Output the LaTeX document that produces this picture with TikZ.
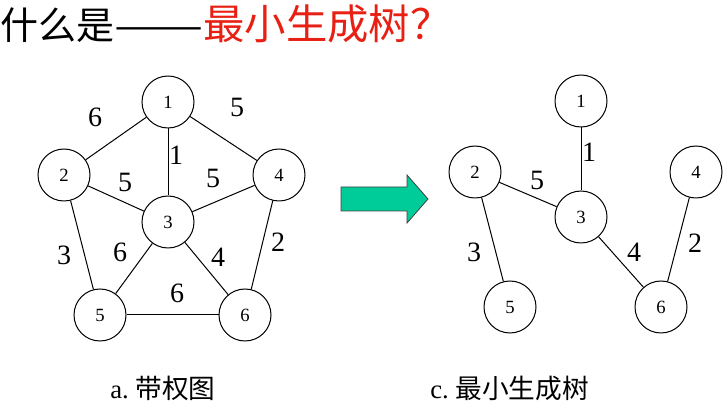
\documentclass[tikz,border=0pt]{standalone}
\usepackage{fontspec}
\setmainfont{Liberation Serif}
\newfontfamily\cjk{Noto Sans CJK SC}
\definecolor{titlered}{RGB}{232,32,20}
\definecolor{arrowteal}{RGB}{0,204,153}

\begin{document}
\begin{tikzpicture}[x=0.75pt, y=-0.75pt,
  vertex/.style={draw, circle, line width=0.75pt, minimum size=39pt, inner sep=0pt, font=\fontsize{14}{16}\selectfont},
  weight/.style={inner sep=0pt, font=\fontsize{21}{22}\selectfont},
  edge/.style={line width=0.75pt},
  caption/.style={anchor=west, inner sep=0pt, font=\fontsize{20}{22}\selectfont}]
\useasboundingbox (0,0) rectangle (725,402);
\node[anchor=west, inner sep=0pt, font=\cjk\fontsize{28.5}{30}\selectfont] (title) at (0,24) {什么是\scalebox{1.4}[1]{——}\textcolor{titlered}{\fontsize{31}{32}\selectfont 最小生成树？}};
\node[vertex] (l1) at (168,102) {1};
\node[vertex] (l2) at (64,175) {2};
\node[vertex] (l3) at (168,222) {3};
\node[vertex] (l4) at (279,175) {4};
\node[vertex] (l5) at (100,315) {5};
\node[vertex] (l6) at (245,315) {6};
\draw[edge] (l1)--(l2);
\draw[edge] (l1)--(l4);
\draw[edge] (l1)--(l3);
\draw[edge] (l2)--(l3);
\draw[edge] (l3)--(l4);
\draw[edge] (l2)--(l5);
\draw[edge] (l3)--(l5);
\draw[edge] (l3)--(l6);
\draw[edge] (l4)--(l6);
\draw[edge] (l5)--(l6);
\node[weight] (a12) at (95,117) {6};
\node[weight] (a14) at (237,107) {5};
\node[weight] (a13) at (176,155) {1};
\node[weight] (a23) at (125,182) {5};
\node[weight] (a34) at (213,178) {5};
\node[weight] (a25) at (64,255) {3};
\node[weight] (a35) at (120,252) {6};
\node[weight] (a36) at (218,257) {4};
\node[weight] (a46) at (278,242) {2};
\node[weight] (a56) at (177,293) {6};
\node[caption] (capa) at (110,388) {a.~{\cjk 带权图}};
\filldraw[fill=arrowteal, draw=black!75, line width=0.6pt] (341,187)--(407,187)--(407,175)--(428,199)--(407,223)--(407,211)--(341,211)--cycle;
\node[vertex] (r1) at (581,101) {1};
\node[vertex] (r2) at (475,172) {2};
\node[vertex] (r3) at (581,217) {3};
\node[vertex] (r4) at (696,172) {4};
\node[vertex] (r5) at (510,307) {5};
\node[vertex] (r6) at (661,307) {6};
\draw[edge] (r1)--(r3);
\draw[edge] (r2)--(r3);
\draw[edge] (r2)--(r5);
\draw[edge] (r3)--(r6);
\draw[edge] (r4)--(r6);
\node[weight] (b13) at (589,152) {1};
\node[weight] (b23) at (537,180) {5};
\node[weight] (b25) at (474,252) {3};
\node[weight] (b36) at (634,252) {4};
\node[weight] (b46) at (695,243) {2};
\node[caption] (capc) at (430,388) {c.~{\cjk 最小生成树}};
\end{tikzpicture}
\end{document}
